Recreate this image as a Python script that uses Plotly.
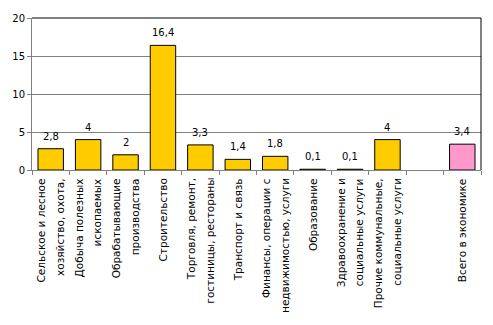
import plotly.graph_objects as go

# Sector names (line breaks as they appear on the axis) and growth values
categories = [
    "Сельское и лесное\nхозяйство, охота,",
    "Добыча полезных\nископаемых",
    "Обрабатывающие\nпроизводства",
    "Строительство",
    "Торговля, ремонт,\nгостиницы, рестораны",
    "Транспорт и связь",
    "Финансы, операции с\nнедвижимостью, услуги",
    "Образование",
    "Здравоохранение и\nсоциальные услуги",
    "Прочие коммунальные,\nсоциальные услуги",
    " ",
    "Всего в экономике",
]
values = [2.8, 4, 2, 16.4, 3.3, 1.4, 1.8, 0.1, 0.1, 4, None, 3.4]
labels = ["2,8", "4", "2", "16,4", "3,3", "1,4", "1,8", "0,1", "0,1", "4", "", "3,4"]
colors = ["#FFCC00"] * 11 + ["#FF99CC"]

FONT = "DejaVu Sans"

fig = go.Figure(
    go.Bar(
        x=categories,
        y=values,
        marker=dict(color=colors, line=dict(color="#000000", width=1)),
        width=0.68,
        hoverinfo="skip",
    )
)

annotations = []
# Value labels above the bars
for cat, val, lab in zip(categories, values, labels):
    if val is None:
        continue
    annotations.append(dict(
        x=cat, y=val, xref="x", yref="y", text=lab, showarrow=False,
        xanchor="center", yanchor="bottom", yshift=5,
        font=dict(family=FONT, size=10, color="#000000"),
    ))

# Rotated category labels, one annotation per text line
LINE_STEP = 18.5
for cat in categories:
    lines = cat.split("\n")
    n = len(lines)
    for i, line in enumerate(lines):
        if not line.strip():
            continue
        annotations.append(dict(
            x=cat, y=0, xref="x", yref="paper", text=line, showarrow=False,
            textangle=-90, xanchor="center", yanchor="top",
            xshift=(i - (n - 1) / 2) * LINE_STEP, yshift=-6,
            font=dict(family=FONT, size=10.5, color="#000000"),
        ))

fig.update_layout(
    width=493,
    height=325,
    margin=dict(l=32, r=12, t=13, b=155),
    paper_bgcolor="white",
    plot_bgcolor="white",
    showlegend=False,
    font=dict(family=FONT, size=10, color="#000000"),
    annotations=annotations,
    xaxis=dict(
        type="category",
        showticklabels=False,
        tickson="boundaries",
        ticks="outside",
        ticklen=4,
        tickcolor="#808080",
        showline=True,
        linecolor="#808080",
        linewidth=1,
        showgrid=False,
    ),
    yaxis=dict(
        range=[0, 20],
        tickvals=[0, 5, 10, 15, 20],
        showgrid=True,
        gridcolor="#808080",
        gridwidth=1,
        showline=True,
        linecolor="#808080",
        zeroline=False,
        ticks="outside",
        ticklen=4,
        tickcolor="#808080",
        tickfont=dict(family=FONT, size=10),
    ),
)

# Black frame on the top and right edges of the plot area
fig.add_shape(type="line", xref="paper", yref="paper", x0=0, x1=1, y0=1, y1=1,
              line=dict(color="#000000", width=1))
fig.add_shape(type="line", xref="paper", yref="paper", x0=1, x1=1, y0=0, y1=1,
              line=dict(color="#000000", width=1))

fig.write_html("out.html")
